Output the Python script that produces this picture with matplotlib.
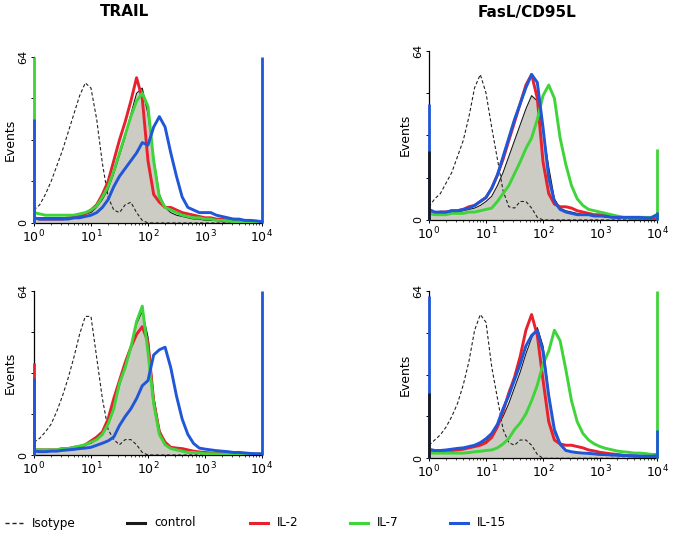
import numpy as np
import matplotlib
matplotlib.use("Agg")
import matplotlib.pyplot as plt
from matplotlib.lines import Line2D

# channel positions: log10 fluorescence, one value every 0.1 decade
log_fl = np.linspace(0, 4, 41)

# ---- TRAIL, top
trail_top_iso = [5, 7, 11, 16, 22, 28, 35, 42, 49, 54, 52, 40, 23, 10, 5, 4, 7, 8, 4, 1, 0,
                 0, 0, 0, 0, 0, 0, 0, 0, 0, 0, 0, 0, 0, 0, 0, 0, 0, 0, 0, 0]
trail_top_ctl = [2, 2, 2, 2, 2, 2, 2, 2.5, 3, 3.5, 4, 6, 9, 13, 19, 26, 33, 42, 50, 52, 42,
                 25, 11, 6, 4, 3, 2.5, 2, 1.5, 1.5, 1, 1, 1, 0.5, 0.5, 0.5, 0.5, 0.3, 0.3, 0.3, 0.3]
trail_top_il2 = [2, 1.5, 1.5, 1.5, 1.5, 1.5, 2, 2, 2.5, 3.5, 5, 7, 11, 16, 24, 32, 39, 47, 56, 48, 24,
                 11, 8, 6, 6, 5, 4, 3.5, 3, 2.5, 2, 2, 1.5, 1.5, 1, 1, 0.5, 0.5, 0.5, 0.3, 0.3]
trail_top_il7 = [4, 3.5, 3, 3, 3, 3, 3, 3, 3.5, 4, 5, 6.5, 10, 14, 20, 27, 34, 41, 47, 50, 45,
                 24, 10, 6, 5, 4, 3, 2.5, 2, 2, 1.5, 1.5, 1, 1, 0.8, 0.5, 0.5, 0.3, 0.3, 0.3, 0.3]
trail_top_il15 = [2, 1.5, 1.5, 1.5, 1.5, 1.5, 1.5, 2, 2, 2.5, 3, 4, 6, 9, 14, 18, 21, 24, 27, 31, 30,
                  37, 41, 37, 27, 18, 10, 6, 5, 4, 4, 4, 3, 2.5, 2, 1.5, 1.5, 1, 1, 0.8, 0.5]
trail_top_edges = [("IL-7", 0, 64), ("IL-15", 0, 40), ("IL-15", 4, 64)]

# ---- FasL/CD95L, top
fasl_top_iso = [5, 8, 10, 14, 18, 24, 30, 39, 50, 55, 48, 35, 23, 11, 5, 4.5, 7, 7, 4.5, 1, 0,
                0, 0, 0, 0, 0, 0, 0, 0, 0, 0, 0, 0, 0, 0, 0, 0, 0, 0, 0, 0]
fasl_top_ctl = [3, 2.5, 2.5, 2.5, 3, 3, 3.5, 4, 4.5, 5.5, 7, 9, 13, 18, 24, 30, 36, 42, 47, 45, 34,
                20, 8, 4.5, 3.5, 3, 2.5, 2, 2, 1.5, 1.5, 1, 1, 1, 0.8, 0.8, 0.5, 0.5, 0.5, 0.5, 0.5]
fasl_top_il2 = [3, 2.5, 3, 3, 3.5, 3.5, 4, 5, 5.5, 7, 8.5, 12, 17, 23, 30, 37, 44, 51, 55, 46, 22,
                10, 6, 5, 5, 4.5, 3.5, 3, 2.5, 2, 2, 1.5, 1.5, 1, 1, 0.8, 0.5, 0.5, 0.5, 0.5, 0.5]
fasl_top_il7 = [2.5, 2, 2, 2, 2.5, 2.5, 2.5, 3, 3, 3.5, 4, 4.5, 7, 10, 13, 17.5, 22, 27, 31, 38, 47,
                51, 46, 31, 21, 13, 8, 5.5, 4, 3.5, 3, 2.5, 2, 1.5, 1, 1, 1, 1, 1, 1, 2]
fasl_top_il15 = [4, 3, 3, 3, 3.5, 3.5, 4, 4.5, 5.5, 7, 8.5, 12, 17, 24, 31, 38, 44, 50, 55, 52, 35,
                 16, 7, 4, 3, 2.5, 2, 2, 2, 1.5, 1.5, 1.5, 1, 1, 1, 1, 1, 1, 0.8, 0.8, 2]
fasl_top_edges = [("IL-15", 0, 44), ("control", 0, 26), ("IL-7", 4, 27), ("IL-15", 4, 3)]

# ---- TRAIL, bottom
trail_bot_iso = [5, 6.5, 9, 12, 17, 23, 30, 38, 47, 54, 54, 38, 22, 10, 6, 4, 6, 6, 4, 1, 0,
                 0, 0, 0, 0, 0, 0, 0, 0, 0, 0, 0, 0, 0, 0, 0, 0, 0, 0, 0, 0]
trail_bot_ctl = [2, 2, 2, 2, 2, 2, 2.5, 3, 3.5, 4, 4.5, 6, 8.5, 12.5, 19, 27, 34, 42, 51, 56, 46,
                 23, 10, 4.5, 3, 2.5, 2, 1.5, 1.2, 1, 0.8, 0.6, 0.5, 0.4, 0.3, 0.3, 0.3, 0.3, 0.3, 0.3, 0.3]
trail_bot_il2 = [2, 2, 2, 2, 2, 2.5, 2.5, 3, 3.2, 4, 5.5, 7, 9, 14, 22, 29, 36, 42, 47, 50, 44,
                 21, 9, 5, 3, 2.7, 2.5, 2, 1.5, 1.2, 1, 0.8, 0.6, 0.5, 0.5, 0.3, 0.3, 0.3, 0.3, 0.3, 0.3]
trail_bot_il7 = [2, 2, 2, 2, 2, 2.5, 2.5, 3, 3.5, 4, 5, 6, 8, 12, 18, 28, 34, 42, 52, 58, 40,
                 20, 8, 4, 2.5, 2, 1.5, 1, 1, 0.8, 0.5, 0.5, 0.5, 0.3, 0.3, 0.3, 0.3, 0.3, 0.3, 0.3, 0.3]
trail_bot_il15 = [1.5, 1.3, 1.3, 1.5, 1.5, 1.8, 2, 2.2, 2.5, 2.7, 3, 3.8, 4.6, 5.5, 7, 11.5, 15, 18, 22, 27, 29,
                  39, 41, 42, 34, 23, 14, 8, 4.5, 2.7, 2.3, 2, 1.7, 1.5, 1.3, 1, 1, 0.8, 0.6, 0.5, 0.5]
trail_bot_edges = [("IL-2", 0, 36), ("IL-15", 0, 30), ("IL-15", 4, 64)]

# ---- FasL/CD95L, bottom
fasl_bot_iso = [5, 7, 9, 12, 16, 21, 28, 37, 49, 55, 52, 35, 23, 11, 6, 5, 7, 7, 5, 1.5, 0,
                0, 0, 0, 0, 0, 0, 0, 0, 0, 0, 0, 0, 0, 0, 0, 0, 0, 0, 0, 0]
fasl_bot_ctl = [3, 3, 3, 3, 3, 3.5, 3.5, 4, 4.5, 5.5, 6.5, 8.5, 12, 16, 21, 27, 33, 40, 46, 50, 43,
                25, 10, 5, 3, 2.5, 2, 2, 1.8, 1.5, 1.3, 1.2, 1, 1, 0.8, 0.8, 0.6, 0.5, 0.5, 0.5, 0.5]
fasl_bot_il2 = [3, 2.5, 2.5, 3, 3, 3.2, 3.5, 4, 4.5, 5, 6, 8, 12, 18, 25, 31, 39, 49, 55, 47, 30,
                14, 7, 5.5, 5, 5, 4.5, 4, 3.2, 2.8, 2.3, 2, 1.7, 1.5, 1.2, 1, 0.8, 0.7, 0.6, 0.5, 0.5]
fasl_bot_il7 = [2, 2, 2, 2, 2, 2, 2, 2.2, 2.5, 2.7, 3, 3.2, 4, 5.5, 7.6, 11, 13.5, 17, 22, 28, 36,
                41, 49, 45, 34, 22, 14, 9.5, 7, 5.5, 4.5, 3.8, 3.3, 2.8, 2.5, 2.3, 2, 2, 1.8, 1.5, 1.5]
fasl_bot_il15 = [3.5, 3, 3, 3.2, 3.5, 3.8, 4, 4.5, 5, 6, 7.5, 9.5, 13, 19, 24, 30, 36, 43, 47, 49, 41,
                 24, 11, 5.5, 3, 2.5, 2.2, 2, 1.9, 1.7, 1.5, 1.4, 1.3, 1.2, 1.1, 1, 1, 0.9, 0.8, 0.8, 1]
fasl_bot_edges = [("IL-15", 0, 62), ("control", 0, 25), ("IL-7", 4, 64), ("IL-15", 4, 11)]

titles = ["TRAIL", "FasL/CD95L"]

colors = {"control": "#1a1a1a", "IL-2": "#e8212e", "IL-7": "#3fd43a", "IL-15": "#2057d8"}
fill_col = "#cdccc4"

fig = plt.figure(figsize=(6.74, 5.42), dpi=100)

# axes rectangles in figure fractions (left, bottom, width, height)
panels = [
    ([0.0504, 0.5886, 0.3383, 0.3063], trail_top_iso, trail_top_ctl, trail_top_il2, trail_top_il7, trail_top_il15, trail_top_edges),
    ([0.6365, 0.5941, 0.3383, 0.3124], fasl_top_iso, fasl_top_ctl, fasl_top_il2, fasl_top_il7, fasl_top_il15, fasl_top_edges),
    ([0.0504, 0.1605, 0.3383, 0.3031], trail_bot_iso, trail_bot_ctl, trail_bot_il2, trail_bot_il7, trail_bot_il15, trail_bot_edges),
    ([0.6365, 0.1544, 0.3383, 0.3087], fasl_bot_iso, fasl_bot_ctl, fasl_bot_il2, fasl_bot_il7, fasl_bot_il15, fasl_bot_edges),
]

x = 10 ** log_fl
for rect, iso, ctl, il2, il7, il15, edges in panels:
    ax = fig.add_axes(rect)
    ax.fill_between(x, 0, ctl, color=fill_col, lw=0, zorder=1)
    ax.plot(x, iso, color="#222222", lw=0.8, ls=(0, (3, 2)), zorder=2)
    ax.plot(x, ctl, color=colors["control"], lw=0.8, zorder=3)
    ax.plot(x, il2, color=colors["IL-2"], lw=2.1, zorder=4)
    ax.plot(x, il7, color=colors["IL-7"], lw=2.1, zorder=5)
    ax.plot(x, il15, color=colors["IL-15"], lw=2.1, zorder=6)
    for name, side, h in edges:
        xe = 10 ** (0.008 if side == 0 else 3.995)
        ax.vlines(xe, 0, h, color=colors[name], lw=2.0, zorder=7, clip_on=False)

    ax.set_xscale("log")
    ax.set_xlim(1, 1e4)
    ax.set_ylim(0, 64)
    for s in ["top", "right"]:
        ax.spines[s].set_visible(False)
    ax.spines["left"].set_linewidth(0.9)
    ax.spines["bottom"].set_linewidth(0.9)
    ax.set_xticks([1, 10, 100, 1000, 10000])
    ax.set_xticklabels([r"$10^{0}$", r"$10^{1}$", r"$10^{2}$", r"$10^{3}$", r"$10^{4}$"], fontsize=9)
    ax.set_yticks([0, 16, 32, 48, 64])
    ax.set_yticklabels(["0", "", "", "", "64"], rotation=90, va="center", fontsize=8)
    ax.tick_params(axis="both", which="major", length=2.5, width=0.7, pad=1.5)
    ax.tick_params(axis="x", which="minor", length=1.5, width=0.5)
    ax.set_ylabel("Events", fontsize=9, labelpad=1)

fig.text(125 / 674, 1 - 12 / 542, titles[0], fontsize=11, fontweight="bold", ha="center", va="center")
fig.text(527 / 674, 1 - 12 / 542, titles[1], fontsize=11, fontweight="bold", ha="center", va="center")

# legend along the bottom
legend_names = ["Isotype", "control", "IL-2", "IL-7", "IL-15"]
legend_cols = ["#222222", "#1a1a1a", colors["IL-2"], colors["IL-7"], colors["IL-15"]]
legend_x = [5, 127, 250, 350, 450]
ly = 1 - 523 / 542
for i, (name, c, x0) in enumerate(zip(legend_names, legend_cols, legend_x)):
    if i == 0:
        fig.add_artist(Line2D([x0 / 674, (x0 + 18) / 674], [ly, ly], color=c, lw=1.0,
                              ls=(0, (3, 2)), transform=fig.transFigure))
    else:
        fig.add_artist(Line2D([x0 / 674, (x0 + 18) / 674], [ly, ly], color=c, lw=2.2,
                              transform=fig.transFigure))
    fig.text((x0 + 27) / 674, ly, name, fontsize=9.5, va="center", ha="left",
             fontstretch="condensed")

fig.savefig("out.png", dpi=100)
